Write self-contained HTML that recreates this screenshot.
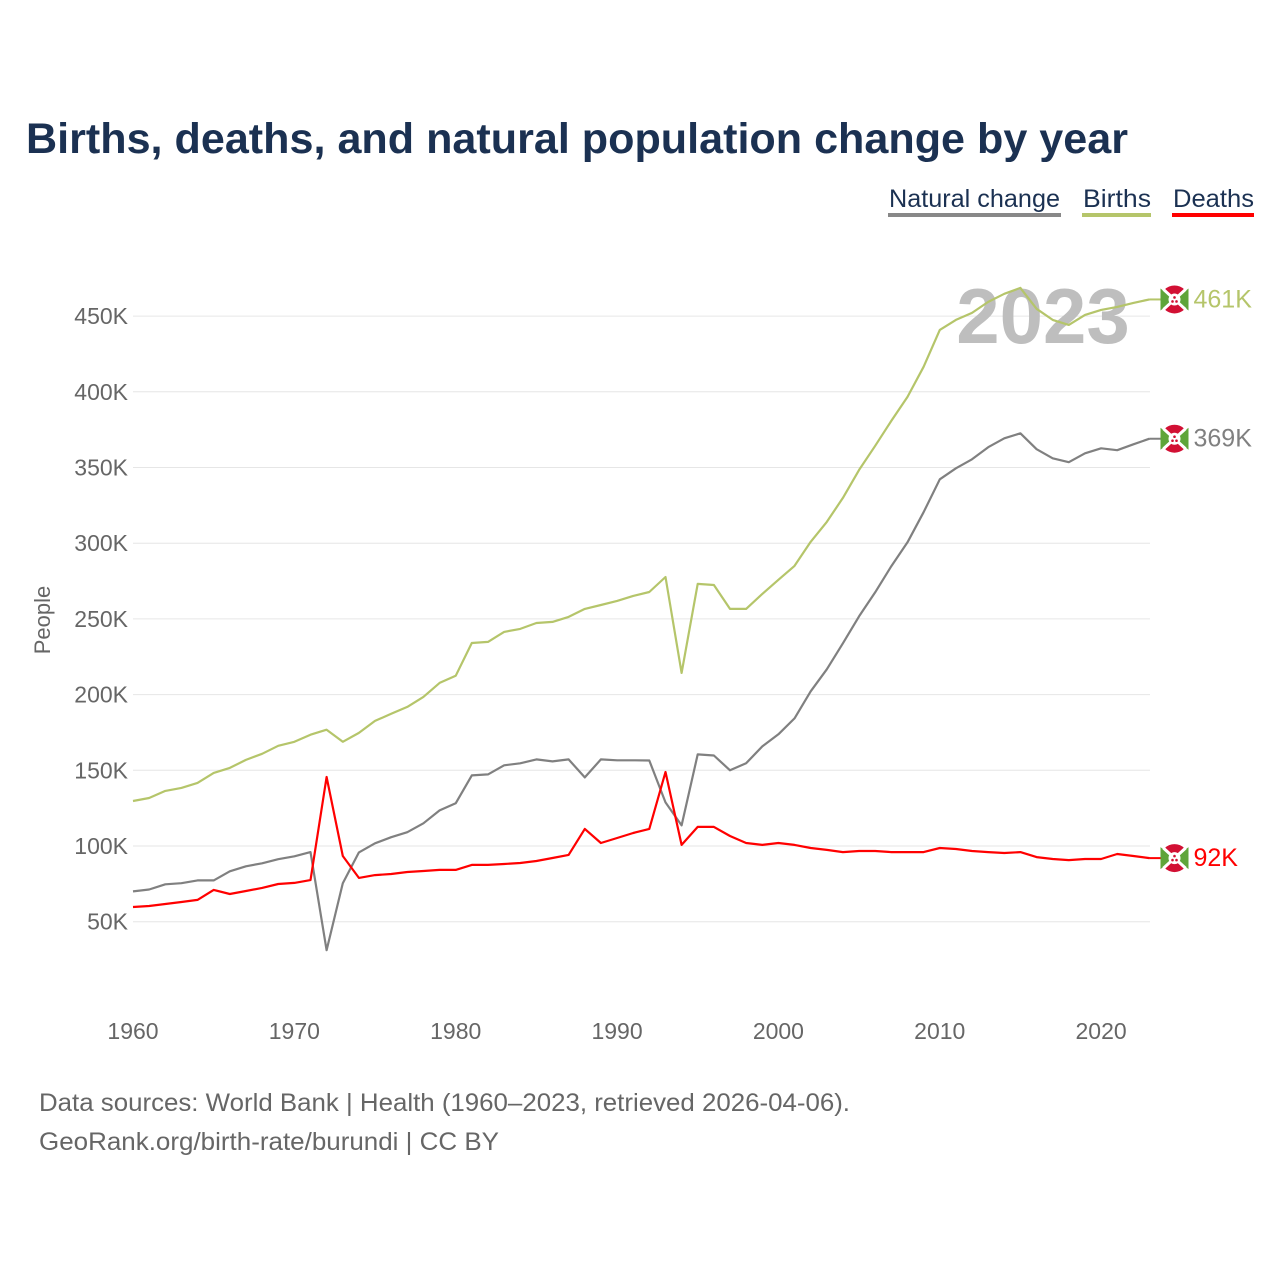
<!DOCTYPE html>
<html><head><meta charset="utf-8"><style>
body{margin:0;background:#fff;}
svg text{font-family:"Liberation Sans",sans-serif;}
</style></head><body>
<svg id="chart" width="1280" height="1280" xmlns="http://www.w3.org/2000/svg">
<text x="26" y="153" font-size="43" font-weight="bold" fill="#1b3152" textLength="1102" lengthAdjust="spacingAndGlyphs">Births, deaths, and natural population change by year</text>
<g font-size="25" fill="#1b3152">
<text x="889" y="207" textLength="171" lengthAdjust="spacingAndGlyphs">Natural change</text>
<rect x="888" y="213" width="173" height="4" fill="#888"/>
<text x="1083" y="207" textLength="68" lengthAdjust="spacingAndGlyphs">Births</text>
<rect x="1082" y="213" width="69" height="4" fill="#b5c56a"/>
<text x="1173" y="207" textLength="81" lengthAdjust="spacingAndGlyphs">Deaths</text>
<rect x="1172" y="213" width="82" height="4" fill="#f00"/>
</g>
<g id="grid"></g>
<g id="yticks" font-size="23" fill="#666" text-anchor="end"></g>
<g id="xticks" font-size="23" fill="#666" text-anchor="middle"></g>
<text transform="translate(50,620) rotate(-90)" font-size="22" fill="#666" text-anchor="middle">People</text>
<text x="1043" y="343" font-size="78" font-weight="bold" fill="#bbb" text-anchor="middle" opacity="0.95">2023</text>
<g id="lines"></g>
<text x="39" y="1111" font-size="25" fill="#666" textLength="811" lengthAdjust="spacingAndGlyphs">Data sources: World Bank | Health (1960–2023, retrieved 2026-04-06).</text>
<text x="39" y="1150" font-size="25" fill="#666" textLength="460" lengthAdjust="spacingAndGlyphs">GeoRank.org/birth-rate/burundi | CC BY</text>
</svg>
<script>
const years=[];for(let y=1960;y<=2023;y++)years.push(y);
const births=[129.7,131.7,136.4,138.4,141.7,148.3,151.6,156.9,160.9,166.2,168.8,173.5,176.8,168.8,174.7,182.6,187.3,191.9,198.5,207.7,212.4,234.1,234.8,241.4,243.4,247.3,248.0,251.3,256.6,259.2,261.9,265.2,267.8,277.7,214.3,273.1,272.4,256.6,256.6,266.5,275.8,285.0,300.9,314.1,329.9,348.4,364.3,380.8,396.6,416.5,440.9,447.5,452.1,459.4,464.7,468.6,454.8,447.5,444.2,450.8,454.1,456.1,458.7,461];
const deaths=[59.7,60.4,61.7,63.0,64.4,71.0,68.3,70.3,72.3,74.9,75.6,77.5,145.6,93.4,78.9,80.8,81.5,82.8,83.5,84.2,84.2,87.5,87.5,88.1,88.8,90.1,92.1,94.1,111.3,102.0,105.3,108.6,111.3,148.9,100.7,112.6,112.6,106.6,102.0,100.7,102.0,100.7,98.7,97.4,96.0,96.7,96.7,96.0,96.0,96.0,98.7,98.0,96.7,96.0,95.4,96.0,92.7,91.4,90.7,91.4,91.4,94.7,93.4,92.0];
const natural=[70.0,71.3,74.7,75.4,77.3,77.3,83.3,86.6,88.6,91.3,93.2,96.0,31.2,75.4,95.8,101.8,105.8,109.1,115.0,123.5,128.2,146.6,147.3,153.3,154.6,157.2,155.9,157.2,145.3,157.2,156.6,156.6,156.5,128.8,113.6,160.5,159.8,150.0,154.6,165.8,173.8,184.3,202.2,216.7,233.9,251.7,267.6,284.8,300.6,320.5,342.2,349.5,355.4,363.4,369.3,372.6,362.1,356.1,353.5,359.4,362.7,361.4,365.3,369];
const yTicks=[50,100,150,200,250,300,350,400,450];
const xTicks=[1960,1970,1980,1990,2000,2010,2020];
const endLabels=["461K","369K","92K"];
const NS="http://www.w3.org/2000/svg";
const X=y=>133+(y-1960)*16.135;
const Y=v=>997.4-v*1.514;
function mk(t,a,p){const e=document.createElementNS(NS,t);for(const k in a)e.setAttribute(k,a[k]);p.appendChild(e);return e;}
const grid=document.getElementById('grid'),yt=document.getElementById('yticks'),xt=document.getElementById('xticks'),lines=document.getElementById('lines');
yTicks.forEach(v=>{
 const l=mk('line',{x1:133,x2:1150,y1:Y(v*1),y2:Y(v*1),stroke:'#e6e6e6','stroke-width':1},grid);
 
 
 const t=mk('text',{x:128,y:Y(v)+8},yt);t.textContent=v+'K';
 
 
});
xTicks.forEach(v=>{
 const t=mk('text',{x:X(v),y:1039},xt);t.textContent=v;
 
 
});
const series=[[births,'#b5c56a','births-line'],[natural,'#808080','natural-change-line'],[deaths,'#f00','deaths-line']];
series.forEach((s,i)=>{
 const d=s[0].map((v,j)=>(j?'L':'M')+X(years[j]).toFixed(1)+' '+Y(v).toFixed(1)).join('');
 const p=mk('path',{d:d,fill:'none',stroke:s[1],'stroke-width':2.2,'stroke-linejoin':'round'},lines);
 
 
 const last=s[0][s[0].length-1],cx=X(2023)+25,cy=Y(last);
 mk('line',{x1:X(2023),x2:cx-13,y1:cy,y2:cy,stroke:s[1],'stroke-width':2},lines);
 const g=mk('g',{},lines);
 
 
 mk('circle',{cx:cx,cy:cy,r:14,fill:'#d21034'},g);
 mk('path',{d:`M${cx-14} ${cy-11}L${cx} ${cy}L${cx-14} ${cy+11}Z M${cx+14} ${cy-11}L${cx} ${cy}L${cx+14} ${cy+11}Z`,fill:'#5fa53a'},g);
 mk('path',{d:`M${cx-11} ${cy-10}L${cx+11} ${cy+10}M${cx+11} ${cy-10}L${cx-11} ${cy+10}`,stroke:'#fff','stroke-width':3},g);
 mk('circle',{cx:cx,cy:cy,r:6,fill:'#fff'},g);
 mk('circle',{cx:cx,cy:cy-2,r:1.3,fill:'#d21034'},g);
 mk('circle',{cx:cx-2,cy:cy+2,r:1.3,fill:'#d21034'},g);
 mk('circle',{cx:cx+2,cy:cy+2,r:1.3,fill:'#d21034'},g);
 const t=mk('text',{x:cx+19,y:cy+8,'font-size':25,fill:s[1]},lines);t.textContent=endLabels[i];
 
 
});
</script>
</body></html>
